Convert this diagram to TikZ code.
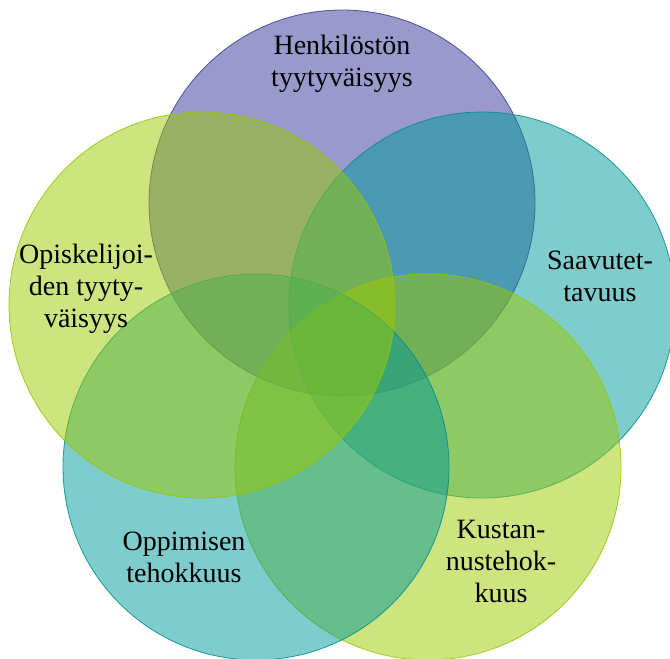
\documentclass[tikz,border=0pt]{standalone}
\usepackage{fontspec}
\setmainfont{Liberation Serif}
\definecolor{vpurple}{RGB}{51,51,153}
\definecolor{vteal}{RGB}{0,153,153}
\definecolor{vgreen}{RGB}{155,201,0}
\definecolor{spurple}{RGB}{60,60,150}
\definecolor{steal}{RGB}{0,140,145}
\definecolor{sgreen}{RGB}{145,200,0}
\begin{document}
\begin{tikzpicture}[x=1pt,y=-1pt,
  venn/.style={circle, minimum size=386pt, inner sep=0pt, fill opacity=0.5, draw opacity=0.85, line width=0.8pt},
  lbl/.style={font=\fontsize{28}{32}\selectfont, align=center, text=black},
]
\useasboundingbox (0,0) rectangle (670,659);
\node[venn, fill=vpurple, draw=spurple] (c1) at (342,203) {};
\node[venn, fill=vteal, draw=steal] (c2) at (482,305) {};
\node[venn, fill=vgreen, draw=sgreen] (c3) at (428,467) {};
\node[venn, fill=vteal, draw=steal] (c4) at (256,467) {};
\node[venn, fill=vgreen, draw=sgreen] (c5) at (202,305) {};
\node[lbl] (t1) at (342,64) {Henkilöstön\\tyytyväisyys};
\node[lbl] (t2) at (600,276) {Saavutet-\\tavuus};
\node[lbl] (t3) at (501,561) {Kustan-\\nustehok-\\kuus};
\node[lbl] (t4) at (184,557) {Oppimisen\\tehokkuus};
\node[lbl] (t5) at (86,289) {Opiskelijoi-\\den tyyty-\\väisyys};
\end{tikzpicture}
\end{document}
